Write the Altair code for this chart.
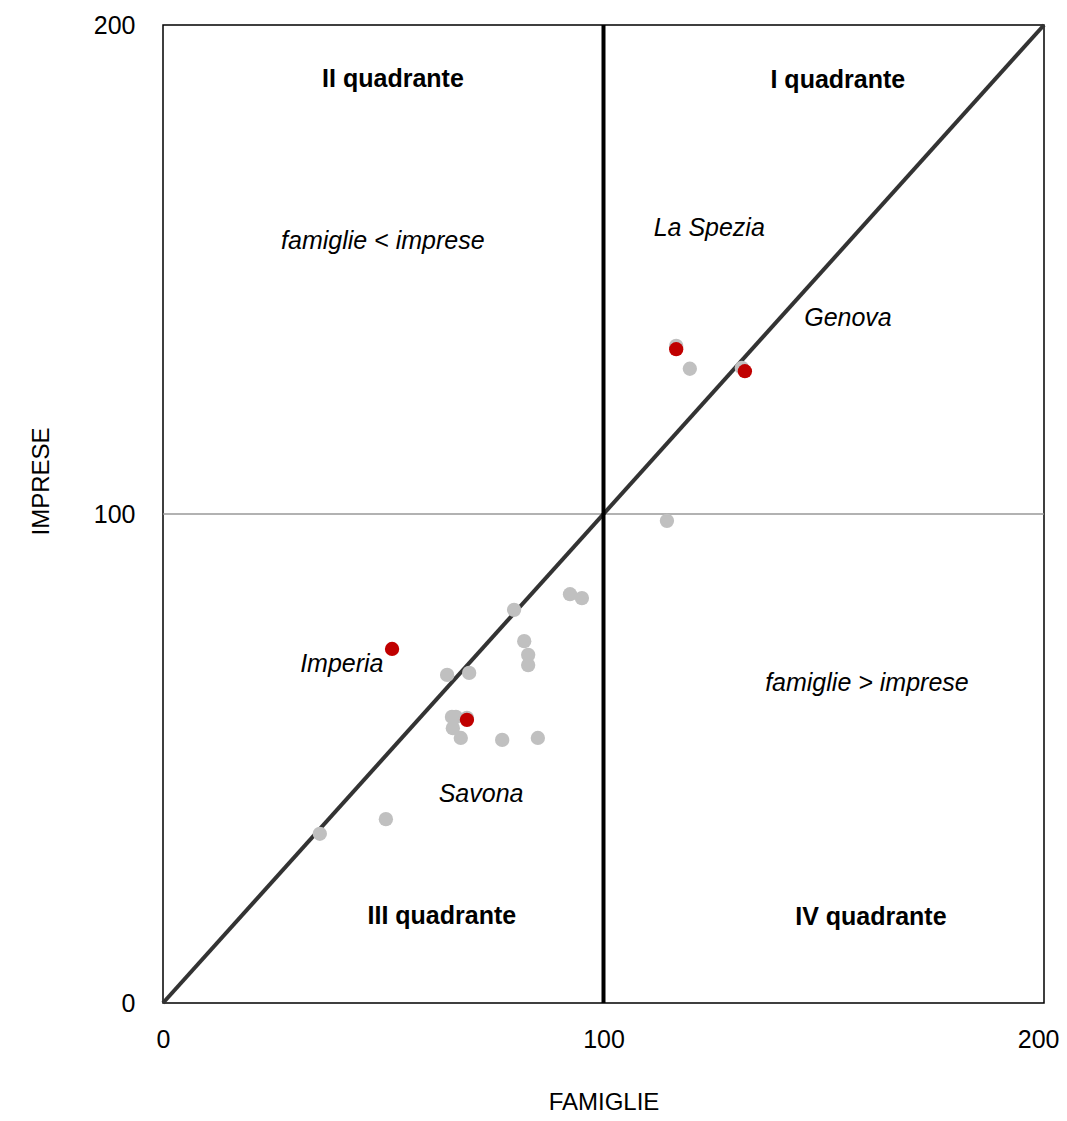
import altair as alt
import pandas as pd

# grey points (other provinces / years)
grey_x = [35.6, 50.6, 64.5, 69.5, 79.7, 82.0, 82.9, 82.9, 92.4, 95.1,
          65.6, 66.5, 65.8, 67.6, 69.0, 77.0, 85.1, 114.4, 119.6, 116.5, 131.4]
grey_y = [34.6, 37.6, 67.1, 67.5, 80.4, 74.0, 71.2, 69.1, 83.6, 82.8,
          58.5, 58.5, 56.2, 54.2, 58.3, 53.8, 54.2, 98.6, 129.7, 134.4, 129.9]

# red points (Liguria provinces)
red_x = [52.0, 69.0, 116.5, 132.1]
red_y = [72.4, 57.9, 133.7, 129.2]

diag_x = [0, 200]
diag_y = [0, 200]

bold_labels = ["II quadrante", "I quadrante", "III quadrante", "IV quadrante"]
bold_x = [52.2, 153.2, 63.3, 160.7]
bold_y = [189.0, 188.7, 17.8, 17.6]

ital_labels = ["famiglie < imprese", "La Spezia", "Genova", "Imperia",
               "famiglie > imprese", "Savona"]
ital_x = [49.9, 124.0, 155.5, 40.6, 159.8, 72.2]
ital_y = [155.8, 158.5, 140.0, 69.3, 65.4, 42.7]

FONT = "Liberation Sans"
FS = 25

xs = alt.Scale(domain=[0, 200], nice=False)
ys = alt.Scale(domain=[0, 200], nice=False)

grey_df = pd.DataFrame({"x": grey_x, "y": grey_y})
red_df = pd.DataFrame({"x": red_x, "y": red_y})
diag_df = pd.DataFrame({"x": diag_x, "y": diag_y})
bold_df = pd.DataFrame({"t": bold_labels, "x": bold_x, "y": bold_y})
ital_df = pd.DataFrame({"t": ital_labels, "x": ital_x, "y": ital_y})

base_x = alt.X("x:Q", scale=xs, title="FAMIGLIE",
               axis=alt.Axis(values=[0, 100, 200], grid=False, ticks=False, domain=False,
                             labelFlush=False,
                             labelAlign=alt.condition("datum.value == 200", alt.value("right"), alt.value("center")),
                             labelOffset=alt.condition("datum.value == 200", alt.value(15), alt.value(0)),
                             labelFontSize=25, labelFont=FONT, labelColor="black",
                             labelPadding=24, titleFontSize=24, titleFont=FONT,
                             titleFontWeight="normal", titleColor="black", titlePadding=38))
base_y = alt.Y("y:Q", scale=ys, title="IMPRESE",
               axis=alt.Axis(values=[0, 100, 200], grid=False, ticks=False, domain=False,
                             labelFlush=False,
                             labelFontSize=25, labelFont=FONT, labelColor="black",
                             labelPadding=28, titleFontSize=24, titleFont=FONT,
                             titleFontWeight="normal", titleColor="black", titlePadding=40,
                             titleY=456))

hrule = alt.Chart(pd.DataFrame({"y": [100]})).mark_rule(color="#999999", strokeWidth=1.5).encode(
    y=alt.Y("y:Q", scale=ys))
vrule = alt.Chart(pd.DataFrame({"x": [100]})).mark_rule(color="black", strokeWidth=4).encode(
    x=alt.X("x:Q", scale=xs))
diag = alt.Chart(diag_df).mark_line(color="#333333", strokeWidth=4).encode(x=base_x, y=base_y)

grey = alt.Chart(grey_df).mark_circle(color="#c0c0c0", opacity=1, size=205).encode(
    x=alt.X("x:Q", scale=xs), y=alt.Y("y:Q", scale=ys))
red = alt.Chart(red_df).mark_circle(color="#c00000", opacity=1, size=205).encode(
    x=alt.X("x:Q", scale=xs), y=alt.Y("y:Q", scale=ys))

btext = alt.Chart(bold_df).mark_text(font=FONT, fontSize=FS, fontWeight="bold", color="black").encode(
    x=alt.X("x:Q", scale=xs), y=alt.Y("y:Q", scale=ys), text="t:N")
itext = alt.Chart(ital_df).mark_text(font=FONT, fontSize=FS, fontStyle="italic", color="black").encode(
    x=alt.X("x:Q", scale=xs), y=alt.Y("y:Q", scale=ys), text="t:N")

chart = alt.layer(hrule, diag, vrule, grey, red, btext, itext).properties(
    width=881, height=978,
    autosize=alt.AutoSizeParams(type="none"),
    padding={"left": 155, "top": 17, "right": 15, "bottom": 110},
).configure_view(stroke="black", strokeWidth=1.5)

chart.save("out.html", embed_options={"renderer": "svg", "actions": False})
